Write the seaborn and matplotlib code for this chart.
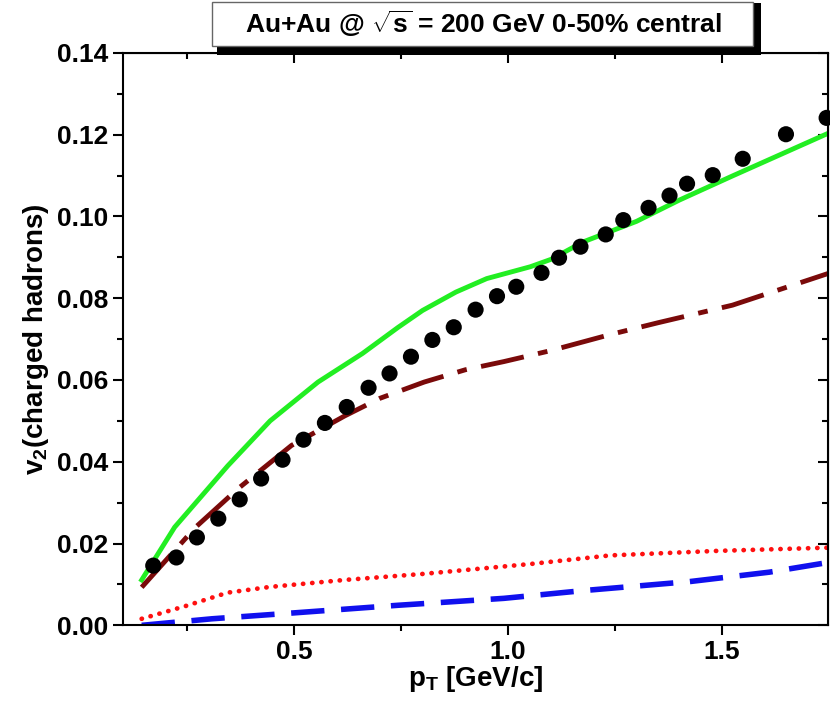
import numpy as np
import pandas as pd
import seaborn as sns
import matplotlib
matplotlib.use("Agg")
import matplotlib.pyplot as plt
from matplotlib.patches import Rectangle
from matplotlib.ticker import MultipleLocator

pt_data = [0.171,0.225,0.273,0.323,0.373,0.423,0.473,0.522,0.572,0.623,0.674,0.723,0.773,0.823,0.873,0.924,0.974,1.019,1.078,1.119,1.169,1.228,1.269,1.328,1.377,1.418,1.478,1.548,1.649,1.744]
v2_data = [0.0146,0.0166,0.0215,0.0261,0.0308,0.0359,0.0405,0.0454,0.0495,0.0534,0.0581,0.0616,0.0657,0.0698,0.0729,0.0772,0.0805,0.0828,0.0862,0.0899,0.0926,0.0956,0.0991,0.1021,0.1051,0.1080,0.1101,0.1141,0.1201,0.1241]

pt_green = [0.144,0.221,0.345,0.444,0.556,0.66,0.742,0.80,0.878,0.95,1.052,1.10,1.176,1.300,1.40,1.524,1.749]
v2_green = [0.0111,0.024,0.039,0.050,0.0595,0.0665,0.0728,0.0770,0.0815,0.0848,0.0877,0.0895,0.0938,0.0988,0.1040,0.1099,0.1204]

pt_dd = [0.144,0.27,0.37,0.494,0.618,0.70,0.804,0.90,0.99,1.10,1.238,1.35,1.524,1.749]
v2_dd = [0.0093,0.024,0.0335,0.044,0.0512,0.0555,0.0595,0.0625,0.0645,0.0672,0.0711,0.0740,0.0783,0.0861]

pt_red = [0.144,0.246,0.345,0.444,0.618,0.804,1.052,1.238,1.486,1.749]
v2_red = [0.0016,0.0047,0.008,0.0094,0.0111,0.0126,0.015,0.0171,0.0182,0.019]

pt_blue = [0.144,0.308,0.494,0.742,0.99,1.176,1.424,1.61,1.749]
v2_blue = [0.0,0.0016,0.003,0.0049,0.0066,0.0085,0.0107,0.013,0.0154]

plt.rcParams["font.family"] = "Liberation Sans"
plt.rcParams["font.weight"] = "bold"
plt.rcParams["mathtext.fontset"] = "custom"
plt.rcParams["mathtext.rm"] = "Liberation Sans:bold"
plt.rcParams["mathtext.bf"] = "Liberation Sans:bold"

fig = plt.figure(figsize=(8.3, 7.05), dpi=100)
ax = fig.add_axes([0.148, 0.113, 0.850, 0.812])

sns.lineplot(x=pt_green, y=v2_green, ax=ax, color="#22ee22", lw=3.5)
sns.lineplot(x=pt_dd, y=v2_dd, ax=ax, color="#7a0a0a", lw=3.5)
ax.lines[-1].set_dashes([9, 3, 2, 3])
sns.lineplot(x=pt_red, y=v2_red, ax=ax, color="#ff1010", lw=3.4)
ax.lines[-1].set_linestyle((0, (0.05, 1.9)))
ax.lines[-1].set_dash_capstyle("round")
sns.lineplot(x=pt_blue, y=v2_blue, ax=ax, color="#1010ee", lw=4)
ax.lines[-1].set_dashes([6, 3])
sns.scatterplot(x=pt_data, y=v2_data, ax=ax, color="black", s=135, edgecolor="none", zorder=5, clip_on=False)

ax.set_xlim(0.10, 1.748)
ax.set_ylim(0, 0.14)
ax.xaxis.set_major_locator(MultipleLocator(0.5))
ax.xaxis.set_minor_locator(MultipleLocator(0.25))
ax.yaxis.set_major_locator(MultipleLocator(0.02))
ax.yaxis.set_minor_locator(MultipleLocator(0.01))
ax.yaxis.set_major_formatter(matplotlib.ticker.FormatStrFormatter("%.2f"))
ax.tick_params(which="both", direction="out", top=False, right=False, labelsize=19, width=1.5)
ax.tick_params(which="major", length=7)
ax.tick_params(which="minor", length=4)
for sp in ax.spines.values():
    sp.set_linewidth(1.5)
ax2 = ax.secondary_xaxis("top")
ax2.xaxis.set_major_locator(MultipleLocator(0.5)); ax2.xaxis.set_minor_locator(MultipleLocator(0.25))
ax2.tick_params(which="both", direction="in", labeltop=False, width=1.5)
ax2.tick_params(which="major", length=7); ax2.tick_params(which="minor", length=4)
ay2 = ax.secondary_yaxis("right")
ay2.yaxis.set_major_locator(MultipleLocator(0.02)); ay2.yaxis.set_minor_locator(MultipleLocator(0.01))
ay2.tick_params(which="both", direction="in", labelright=False, width=1.5)
ay2.tick_params(which="major", length=7); ay2.tick_params(which="minor", length=4)

ax.set_xlabel(r"p$_\mathregular{T}$ [GeV/c]", fontsize=20, fontweight="bold", labelpad=0)
ax.set_ylabel(r"v$_\mathregular{2}$(charged hadrons)", fontsize=20, fontweight="bold", labelpad=4)

fig.patches.append(Rectangle((0.262, 0.922), 0.655, 0.074, transform=fig.transFigure,
                             facecolor="black", edgecolor="none", zorder=3))
fig.patches.append(Rectangle((0.255, 0.935), 0.652, 0.062, transform=fig.transFigure,
                             facecolor="white", edgecolor="#666666", lw=1, zorder=4))
fig.text(0.582, 0.966, r"Au+Au @ $\sqrt{\mathregular{s}}$ = 200 GeV 0-50% central", ha="center", va="center",
         fontsize=19, fontweight="bold", zorder=5)

fig.savefig("out.png", dpi=100)
